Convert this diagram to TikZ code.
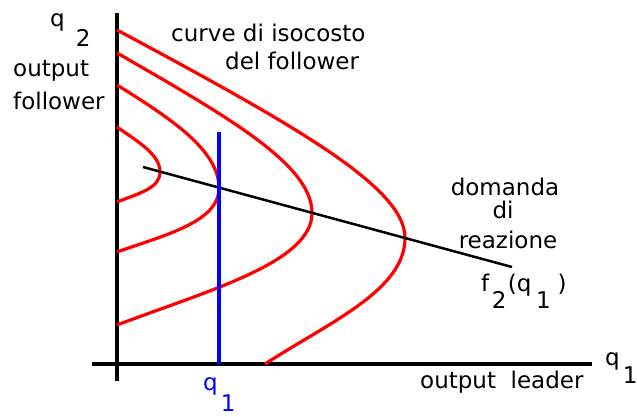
\documentclass[tikz,border=0pt]{standalone}
\usepackage{fontspec}
\setmainfont{DejaVu Sans}
\usepackage{tikz}

\begin{document}
\begin{tikzpicture}[x=1pt,y=-1pt,
  lbl/.style={inner sep=0pt,anchor=base west,font=\fontsize{23}{27}\selectfont},
  clbl/.style={lbl,anchor=base},
  axis/.style={line width=3.4pt},
  iso/.style={red,line width=3.2pt},
  react/.style={line width=2.5pt}]
\useasboundingbox (0,0) rectangle (637,417);
% axes
\coordinate (o) at (117,364);
\draw[axis] (117,13) -- (117,381);
\draw[axis] (92,364) -- (592,364);
% isocost curves of the follower
\draw[iso] (117,127) .. controls (140,143) and (160,155) .. (160,172) .. controls (160,188) and (140,193) .. (117,202);
\draw[iso] (117,85) .. controls (170,118) and (219,150) .. (219,188) .. controls (219,222) and (165,235) .. (117,252);
\draw[iso] (117,53) .. controls (230,118) and (312,165) .. (312,213) .. controls (312,262) and (210,290) .. (117,325);
\draw[iso] (117,30) .. controls (300,128) and (405,188) .. (405,238) .. controls (405,290) and (330,322) .. (265,364);
% reaction function and leader output
\coordinate (rs) at (143,167);
\coordinate (re) at (512,267);
\draw[react] (rs) -- (re);
\coordinate (qt) at (219,132);
\coordinate (qb) at (219,364);
\draw[blue,line width=3.2pt] (qt) -- (qb);
% labels
\node[lbl] (q2) at (50,27) {q\hspace{11pt}\raisebox{-20pt}{2}};
\node[lbl] (outf) at (13,77) {output};
\node[lbl] (fol) at (13,110) {follower};
\node[lbl] (curve) at (171,42) {curve di isocosto};
\node[lbl] (delf) at (225,70) {del follower};
\node[clbl] (dom) at (505,195) {domanda};
\node[clbl] (di) at (503,218) {di};
\node[clbl] (reaz) at (508,248) {reazione};
\node[lbl] (f2) at (481,291) {f\hspace{2.5pt}\raisebox{-17pt}{2}\hspace{1.5pt}(q\hspace{4.5pt}\raisebox{-17pt}{1}\hspace{7pt})};
\node[lbl] (q1r) at (605,365) {q\hspace{3pt}\raisebox{-18pt}{1}};
\node[lbl] (outl) at (420,388) {output\ \ leader};
\node[lbl,blue] (q1) at (203,390) {q\hspace{3pt}\raisebox{-21pt}{1}};
\end{tikzpicture}
\end{document}
